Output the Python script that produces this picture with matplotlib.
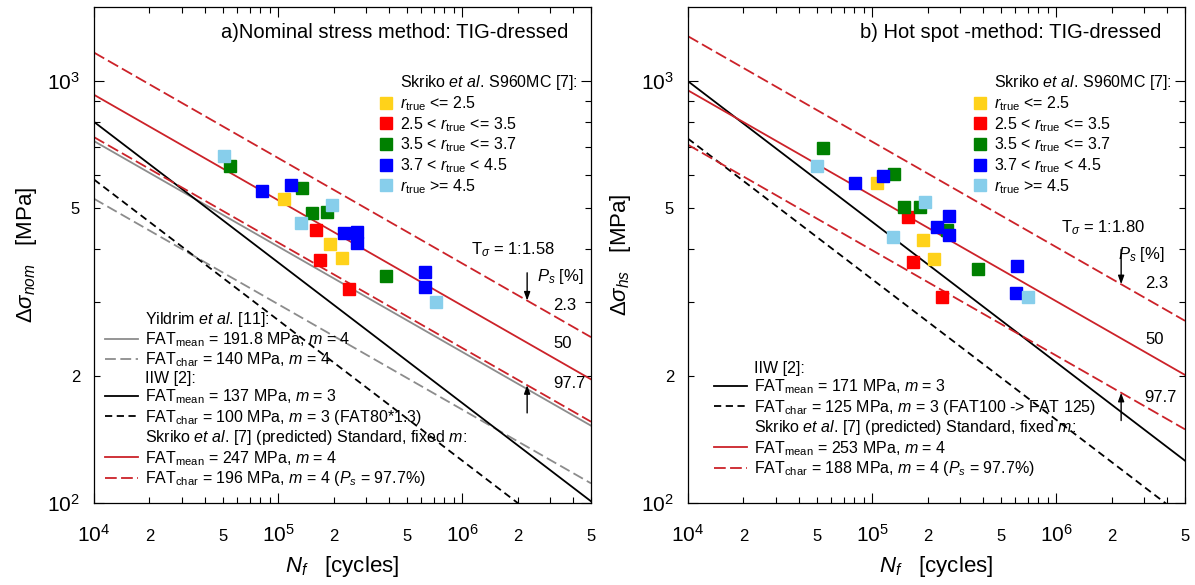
import numpy as np
import matplotlib
matplotlib.use("Agg")
import matplotlib.pyplot as plt
from matplotlib.lines import Line2D
from matplotlib.ticker import LogLocator, LogFormatterMathtext, FuncFormatter

plt.rcParams['font.family'] = ['Liberation Sans', 'DejaVu Sans']
plt.rcParams['mathtext.fontset'] = 'custom'
plt.rcParams['mathtext.rm'] = 'Liberation Sans'
plt.rcParams['mathtext.it'] = 'Liberation Sans:italic'
plt.rcParams['mathtext.bf'] = 'Liberation Sans:bold'

# ---- test data (N cycles, stress range MPa) ----
# a) nominal stress
a_yellow_n = [107e3, 191e3, 221e3]
a_yellow_s = [525, 411, 380]
a_red_n = [160e3, 169e3, 243e3]
a_red_s = [444, 377, 321]
a_green_n = [54.6e3, 134e3, 152e3, 184e3, 385e3]
a_green_s = [630, 558, 486, 490, 346]
a_blue_n = [82e3, 117e3, 228e3, 268e3, 268e3, 624e3, 624e3]
a_blue_s = [550, 568, 436, 438, 414, 353, 326]
a_lblue_n = [50.9e3, 133e3, 197e3, 716e3]
a_lblue_s = [664, 460, 508, 299]

# b) hot spot
b_yellow_n = [106e3, 190e3, 218e3]
b_yellow_s = [575, 420, 378]
b_red_n = [157e3, 166e3, 239e3]
b_red_s = [477, 372, 308]
b_green_n = [53.9e3, 132e3, 149e3, 182e3, 256e3, 378e3]
b_green_s = [693, 604, 504, 502, 444, 358]
b_blue_n = [80.7e3, 115e3, 224e3, 262e3, 262e3, 610e3, 607e3]
b_blue_s = [575, 597, 452, 480, 433, 365, 314]
b_lblue_n = [50.4e3, 130e3, 194e3, 700e3]
b_lblue_s = [629, 427, 518, 308]

# ---- S-N curves: FAT [MPa], slope m ----
a_yildrim = [(191.8, 4), (140, 4)]
a_iiw = [(137, 3), (100, 3)]
a_skriko = [(247, 4), (196, 4), (311, 4)]   # mean, 97.7 %, 2.3 %
b_iiw = [(171, 3), (125, 3)]
b_skriko = [(253, 4), (188, 4), (340, 4)]

n_arrow = 2.25e6
n_range = np.array([1e4, 5e6])

red = '#cc2229'
gray = '#8c8c8c'
c_yellow = '#ffd21a'
c_red = '#ff0000'
c_green = '#008000'
c_blue = '#0000ff'
c_lblue = '#87ceeb'

dash_red = (0, (6.5, 2.4))
dash_gray = (0, (6, 2.5))
dash_black = (0, (4, 2.5))


def sn(fat, m, n):
    return fat * (2e6 / n) ** (1.0 / m)


def minor_fmt(v, pos):
    mant = v / 10 ** np.floor(np.log10(v) + 1e-9)
    r = round(mant)
    if abs(mant - r) < 1e-6 and r in (2, 5):
        return str(int(r))
    return ''


def setup(ax, ylabel):
    ax.set_xscale('log')
    ax.set_yscale('log')
    ax.set_xlim(1e4, 5e6)
    ax.set_ylim(100, 1500)
    for axis in (ax.xaxis, ax.yaxis):
        axis.set_major_locator(LogLocator(base=10, numticks=10))
        axis.set_minor_locator(LogLocator(base=10, subs=np.arange(2, 10), numticks=20))
        axis.set_major_formatter(LogFormatterMathtext())
        axis.set_minor_formatter(FuncFormatter(minor_fmt))
    ax.tick_params(which='both', direction='in', top=True, right=True, width=0.8)
    ax.tick_params(which='major', length=7)
    ax.tick_params(which='minor', length=4)
    ax.tick_params(axis='x', which='major', labelsize=15, pad=15)
    ax.tick_params(axis='x', which='minor', labelsize=12, pad=19)
    ax.tick_params(axis='y', which='major', labelsize=15, pad=10)
    ax.tick_params(axis='y', which='minor', labelsize=12, pad=10)
    for sp in ax.spines.values():
        sp.set_linewidth(0.9)
    ax.set_xlabel(r'$N_f$   [cycles]', fontsize=16, labelpad=6)
    ax.set_ylabel(ylabel, fontsize=16, labelpad=6)


def scatter_groups(ax, groups):
    labels = [r'$r_{\rm true}$ <= 2.5', r'2.5 < $r_{\rm true}$ <= 3.5',
              r'3.5 < $r_{\rm true}$ <= 3.7', r'3.7 < $r_{\rm true}$ < 4.5',
              r'$r_{\rm true}$ >= 4.5']
    colors = [c_yellow, c_red, c_green, c_blue, c_lblue]
    handles = [Line2D([], [], color='none')]
    for (n, s), c, lab in zip(groups, colors, labels):
        ax.plot(n, s, 's', color=c, markersize=8.5, zorder=5)
        handles.append(Line2D([], [], marker='s', ls='none', color=c, markersize=8.5))
    leg = ax.legend(handles, [r'Skriko $et\ al.\,$S960MC [7]:'] + labels,
                    loc='upper left', bbox_to_anchor=(0.575, 0.866), frameon=False,
                    fontsize=11.5, handlelength=0.8, handletextpad=0.45,
                    labelspacing=0.12, borderpad=0, borderaxespad=0)
    ax.add_artist(leg)


fig = plt.figure(figsize=(11.95, 5.85), dpi=100)
ax1 = fig.add_axes([94 / 1195, 1 - 503 / 585, 497 / 1195, 496 / 585])
ax2 = fig.add_axes([688 / 1195, 1 - 503 / 585, 497 / 1195, 496 / 585])

# ---------- a) nominal stress ----------
ax = ax1
l1, = ax.plot(n_range, sn(*a_yildrim[0], n_range), color=gray, lw=1.3)
l2, = ax.plot(n_range, sn(*a_yildrim[1], n_range), color=gray, lw=1.3, ls=dash_gray)
l3, = ax.plot(n_range, sn(*a_iiw[0], n_range), color='k', lw=1.3)
l4, = ax.plot(n_range, sn(*a_iiw[1], n_range), color='k', lw=1.3, ls=dash_black)
l5, = ax.plot(n_range, sn(*a_skriko[0], n_range), color=red, lw=1.3)
l6, = ax.plot(n_range, sn(*a_skriko[1], n_range), color=red, lw=1.3, ls=dash_red)
ax.plot(n_range, sn(*a_skriko[2], n_range), color=red, lw=1.3, ls=dash_red)

scatter_groups(ax, [(a_yellow_n, a_yellow_s), (a_red_n, a_red_s), (a_green_n, a_green_s),
                    (a_blue_n, a_blue_s), (a_lblue_n, a_lblue_s)])

blank = Line2D([], [], color='none')
leg = ax.legend([blank, l1, l2, blank, l3, l4, blank, l5, l6],
                [r'Yildrim $et\ al.\,$[11]:',
                 r'FAT$_{\rm mean}$ = 191.8 MPa, $m$ = 4',
                 r'FAT$_{\rm char}$ = 140 MPa, $m$ = 4',
                 'IIW [2]:',
                 r'FAT$_{\rm mean}$ = 137 MPa, $m$ = 3',
                 r'FAT$_{\rm char}$ = 100 MPa, $m$ = 3 (FAT80*1.3)',
                 r'Skriko $et\ al.\,$[7] (predicted) Standard, fixed $m$:',
                 r'FAT$_{\rm mean}$ = 247 MPa, $m$ = 4',
                 r'FAT$_{\rm char}$ = 196 MPa, $m$ = 4 ($P_s$ = 97.7%)'],
                loc='lower left', bbox_to_anchor=(0.022, 0.03), frameon=False,
                fontsize=11.5, handlelength=2.05, handletextpad=0.48,
                labelspacing=0.1, borderpad=0, borderaxespad=0)

ax.text(0.954, 0.948, 'a)Nominal stress method: TIG-dressed', transform=ax.transAxes,
        ha='right', va='center', fontsize=14.5)
ax.text(0.843, 0.510, r'T$_\sigma$ = 1:1.58', transform=ax.transAxes,
        ha='center', va='center', fontsize=12)
ax.text(0.938, 0.456, r'$P_s$ [%]', transform=ax.transAxes, ha='center', va='center', fontsize=12)
ax.text(0.924, 0.399, '2.3', transform=ax.transAxes, ha='left', va='center', fontsize=12)
ax.text(0.924, 0.321, '50', transform=ax.transAxes, ha='left', va='center', fontsize=12)
ax.text(0.924, 0.240, '97.7', transform=ax.transAxes, ha='left', va='center', fontsize=12)
arr = dict(arrowstyle='-|>,head_length=0.5,head_width=0.18', color='k', lw=1,
           shrinkA=0, shrinkB=0)
ax.annotate('', xy=(n_arrow, sn(*a_skriko[2], n_arrow)), xytext=(0, 20),
            textcoords='offset points', arrowprops=arr)
ax.annotate('', xy=(n_arrow, sn(*a_skriko[1], n_arrow)), xytext=(0, -20),
            textcoords='offset points', arrowprops=arr)
setup(ax, r'$\Delta\sigma_{nom}$   [MPa]')

# ---------- b) hot spot ----------
ax = ax2
k1, = ax.plot(n_range, sn(*b_iiw[0], n_range), color='k', lw=1.3)
k2, = ax.plot(n_range, sn(*b_iiw[1], n_range), color='k', lw=1.3, ls=dash_black)
k3, = ax.plot(n_range, sn(*b_skriko[0], n_range), color=red, lw=1.3)
k4, = ax.plot(n_range, sn(*b_skriko[1], n_range), color=red, lw=1.3, ls=dash_red)
ax.plot(n_range, sn(*b_skriko[2], n_range), color=red, lw=1.3, ls=dash_red)

scatter_groups(ax, [(b_yellow_n, b_yellow_s), (b_red_n, b_red_s), (b_green_n, b_green_s),
                    (b_blue_n, b_blue_s), (b_lblue_n, b_lblue_s)])

leg = ax.legend([blank, k1, k2, blank, k3, k4],
                ['IIW [2]:',
                 r'FAT$_{\rm mean}$ = 171 MPa, $m$ = 3',
                 r'FAT$_{\rm char}$ = 125 MPa, $m$ = 3 (FAT100 -> FAT 125)',
                 r'Skriko $et\ al.\,$[7] (predicted) Standard, fixed $m$:',
                 r'FAT$_{\rm mean}$ = 253 MPa, $m$ = 4',
                 r'FAT$_{\rm char}$ = 188 MPa, $m$ = 4 ($P_s$ = 97.7%)'],
                loc='lower left', bbox_to_anchor=(0.052, 0.050), frameon=False,
                fontsize=11.5, handlelength=2.05, handletextpad=0.48,
                labelspacing=0.1, borderpad=0, borderaxespad=0)

ax.text(0.952, 0.948, 'b) Hot spot -method: TIG-dressed', transform=ax.transAxes,
        ha='right', va='center', fontsize=14.5)
ax.text(0.8355, 0.556, r'T$_\sigma$ = 1:1.80', transform=ax.transAxes,
        ha='center', va='center', fontsize=12)
ax.text(0.9115, 0.500, r'$P_s$ [%]', transform=ax.transAxes, ha='center', va='center', fontsize=12)
ax.text(0.9195, 0.4435, '2.3', transform=ax.transAxes, ha='left', va='center', fontsize=12)
ax.text(0.9195, 0.329, '50', transform=ax.transAxes, ha='left', va='center', fontsize=12)
ax.text(0.9175, 0.212, '97.7', transform=ax.transAxes, ha='left', va='center', fontsize=12)
ax.annotate('', xy=(n_arrow, sn(*b_skriko[2], n_arrow)), xytext=(0, 25),
            textcoords='offset points', arrowprops=arr)
ax.annotate('', xy=(n_arrow, sn(*b_skriko[1], n_arrow)), xytext=(0, -20),
            textcoords='offset points', arrowprops=arr)
setup(ax, r'$\Delta\sigma_{hs}$   [MPa]')

fig.savefig('out.png', dpi=100)
